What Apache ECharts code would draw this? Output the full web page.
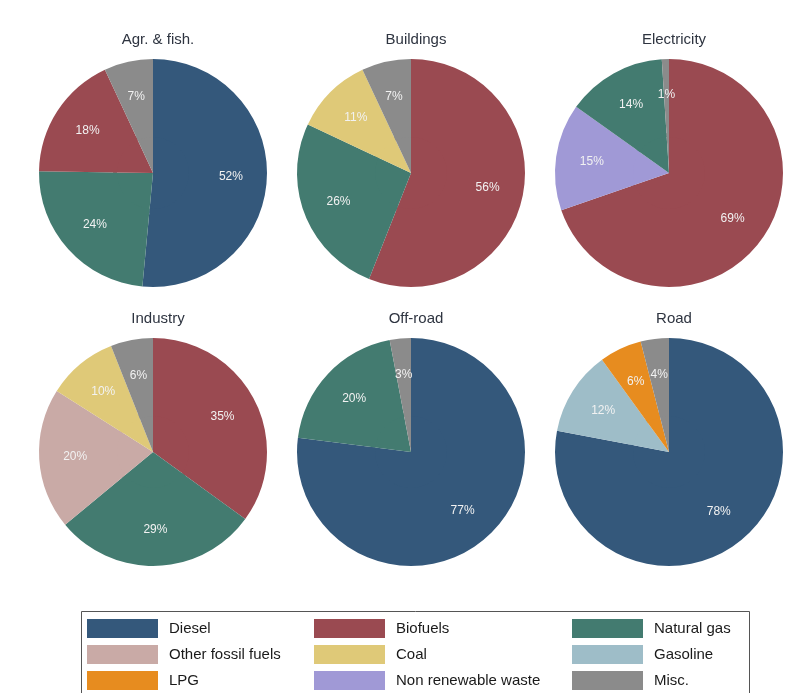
<!DOCTYPE html>
<html>
<head>
<meta charset="utf-8">
<script src="https://cdn.jsdelivr.net/npm/echarts@6/dist/echarts.min.js"></script>
<style>
html,body{margin:0;padding:0;background:#fff;}
#chart{width:797px;height:693px;}
</style>
</head>
<body>
<div id="chart"></div>
<script>
// ---- data ----
const sectors = ['Agr. & fish.', 'Buildings', 'Electricity', 'Industry', 'Off-road', 'Road'];
const fuels = ['Diesel', 'Biofuels', 'Natural gas', 'Other fossil fuels', 'Coal', 'Gasoline', 'LPG', 'Non renewable waste', 'Misc.'];
const fuelColors = ['#34587b', '#9a4a51', '#437b70', '#c9aaa6', '#dfc978', '#9ebdc8', '#e78c1f', '#a099d6', '#8b8b8b'];

const agrNames = ['Diesel', 'Natural gas', 'Biofuels', 'Misc.'];
const agrValues = [52, 24, 18, 7];
const buildingsNames = ['Biofuels', 'Natural gas', 'Coal', 'Misc.'];
const buildingsValues = [56, 26, 11, 7];
const electricityNames = ['Biofuels', 'Non renewable waste', 'Natural gas', 'Misc.'];
const electricityValues = [69, 15, 14, 1];
const industryNames = ['Biofuels', 'Natural gas', 'Other fossil fuels', 'Coal', 'Misc.'];
const industryValues = [35, 29, 20, 10, 6];
const offroadNames = ['Diesel', 'Natural gas', 'Misc.'];
const offroadValues = [77, 20, 3];
const roadNames = ['Diesel', 'Gasoline', 'LPG', 'Misc.'];
const roadValues = [78, 12, 6, 4];

const sectorNames = [agrNames, buildingsNames, electricityNames, industryNames, offroadNames, roadNames];
const sectorValues = [agrValues, buildingsValues, electricityValues, industryValues, offroadValues, roadValues];

// ---- layout ----
const centersX = [153, 411, 669];
const centersY = [173, 452];
const R = 114;

function colorOf(name){ return fuelColors[fuels.indexOf(name)]; }

const series = [];
const titles = [];
sectors.forEach((s, i) => {
  const cx = centersX[i % 3], cy = centersY[Math.floor(i / 3)];
  const data = sectorNames[i].map((n, k) => ({name: n, value: sectorValues[i][k], itemStyle: {color: colorOf(n)}}));
  titles.push({
    text: s, left: cx, top: cy - R - 32, textAlign: 'center',
    textStyle: {fontFamily: 'Liberation Sans, Arial, sans-serif', fontSize: 15, fontWeight: 'normal', color: '#2e3440'}
  });
  // inner fill
  series.push({
    type: 'pie', center: [cx, cy], radius: [0, 40], startAngle: 90, clockwise: true,
    silent: true, animation: false, label: {show: false}, labelLine: {show: false},
    itemStyle: {borderWidth: 0}, data: data
  });
  // outer ring with labels
  series.push({
    type: 'pie', center: [cx, cy], radius: [36, R], startAngle: 90, clockwise: true,
    silent: true, animation: false,
    label: {show: true, position: 'inside', formatter: '{c}%', color: '#f2f2f2',
      fontFamily: 'Liberation Sans, Arial, sans-serif', fontSize: 12},
    labelLine: {show: false}, itemStyle: {borderWidth: 0}, data: data
  });
});

const legendCols = [['Diesel', 'Other fossil fuels', 'LPG'], ['Biofuels', 'Coal', 'Non renewable waste'], ['Natural gas', 'Gasoline', 'Misc.']];
const legendLeft = [87, 314, 572];
const legends = legendCols.map((col, j) => ({
  orient: 'vertical', left: legendLeft[j], top: 619, height: 74, padding: 0,
  itemWidth: 71, itemHeight: 19, itemGap: 7,
  selectedMode: false, icon: 'rect', data: col,
  textStyle: {fontFamily: 'Liberation Sans, Arial, sans-serif', fontSize: 15, color: '#1a1a1a', padding: [2, 0, 0, 6]}
}));

const chart = echarts.init(document.getElementById('chart'));
chart.setOption({
  backgroundColor: '#fff',
  animation: false,
  title: titles,
  legend: legends,
  graphic: [{
    type: 'rect', shape: {x: 81.5, y: 611.5, width: 668, height: 82},
    style: {fill: 'none', stroke: '#555', lineWidth: 1}
  }],
  series: series
});
</script>
</body>
</html>
